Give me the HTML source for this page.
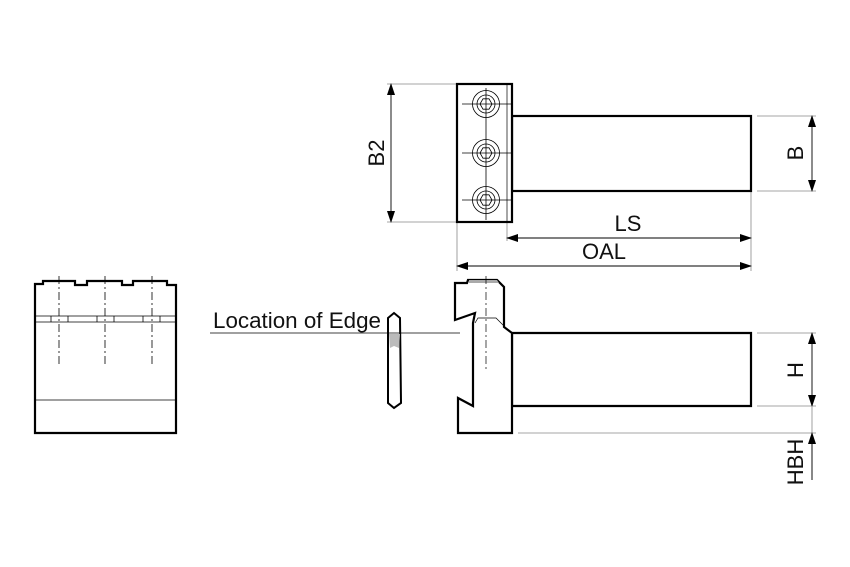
<!DOCTYPE html>
<html><head><meta charset="utf-8"><style>html,body{margin:0;padding:0;background:#fff}svg{display:block}</style></head>
<body>
<svg width="850" height="567" viewBox="0 0 850 567" xmlns="http://www.w3.org/2000/svg" font-family="Liberation Sans, sans-serif">
<defs>
<marker id="a" markerWidth="12" markerHeight="8" refX="11" refY="4" orient="auto-start-reverse" markerUnits="userSpaceOnUse"><path d="M0,0 L12,4 L0,8 z" fill="#000"/></marker>
</defs>
<g stroke="#888" stroke-width="0.8" fill="none">
<line x1="387" y1="84" x2="456" y2="84"/><line x1="387" y1="222" x2="456" y2="222"/>
<line x1="757" y1="116" x2="816" y2="116"/><line x1="757" y1="191" x2="816" y2="191"/>
<line x1="457" y1="222" x2="457" y2="271"/><line x1="751" y1="191" x2="751" y2="271"/><line x1="507" y1="222" x2="507" y2="241"/>
<line x1="757" y1="333" x2="816" y2="333"/><line x1="757" y1="406" x2="816" y2="406"/>
<line x1="518" y1="433" x2="816" y2="433"/>
</g>
<g stroke="#000" stroke-width="0.9" fill="none">
<line x1="391" y1="84" x2="391" y2="222" marker-start="url(#a)" marker-end="url(#a)"/>
<line x1="812" y1="116" x2="812" y2="191" marker-start="url(#a)" marker-end="url(#a)"/>
<line x1="507" y1="238" x2="751" y2="238" marker-start="url(#a)" marker-end="url(#a)"/>
<line x1="457" y1="266" x2="751" y2="266" marker-start="url(#a)" marker-end="url(#a)"/>
<line x1="812" y1="333" x2="812" y2="406" marker-start="url(#a)" marker-end="url(#a)"/>
<line x1="812" y1="406" x2="812" y2="480" stroke="#888" stroke-width="0.8"/>
<line x1="812" y1="480" x2="812" y2="433" marker-end="url(#a)"/>
</g>
<g stroke="#000" fill="#fff">
<rect x="512" y="116" width="239" height="75" stroke-width="2.2"/>
<rect x="457" y="84" width="55" height="138" stroke-width="2.2"/>
<line x1="507" y1="84" x2="507" y2="222" stroke-width="0.7"/>
</g>
<g stroke="#000" fill="none" stroke-width="0.8">
<line x1="486" y1="88" x2="486" y2="220"/>
<g id="s"><circle cx="486" cy="104" r="13.5"/><circle cx="486" cy="104" r="9"/><polygon points="492,104 489,109.2 483,109.2 480,104 483,98.8 489,98.8"/><line x1="462" y1="104" x2="511" y2="104"/></g>
<use href="#s" y="49"/><use href="#s" y="96"/>
</g>
<g stroke="#000" stroke-width="2.2" fill="#fff" stroke-linejoin="miter">
<path d="M512,333 L751,333 L751,406 L512,406 Z"/>
<path d="M455,283 L467,283 L468,280 L497,280 L504,287 L504,327 L512,333 L512,433 L458,433 L458,398 L473,406 L473,323 L475,313 L455,320 Z"/>
</g>
<polygon points="469,280 497,280 499,283 469,283" fill="#aaa"/>
<g stroke="#000" stroke-width="0.7" fill="none">
<polyline points="475,323 478,318 496,318 505,327"/>
<line x1="486" y1="276" x2="486" y2="370" stroke-dasharray="8,3,2,3"/>
</g>
<path d="M388,318 L394,313 L400,318 L401,403 L394,408 L388,403 Z" fill="#fff" stroke="#000" stroke-width="2"/>
<path d="M389,334 L400,334 L399,348 L394,346 L390,348 Z" fill="#bbb"/>
<line x1="210" y1="333" x2="460" y2="333" stroke="#000" stroke-width="0.8"/>
<path d="M35,433 L35,284 L43,284 L43,281 L75,281 L75,285 L87,285 L87,281 L122,281 L122,285 L133,285 L133,281 L167,281 L167,285 L176,285 L176,433 Z" fill="#fff" stroke="#000" stroke-width="2.2"/>
<g stroke="#000" stroke-width="0.8" fill="none">
<line x1="36" y1="316" x2="175" y2="316"/><line x1="36" y1="322" x2="175" y2="322"/>
<line x1="36" y1="400" x2="175" y2="400"/>
<line x1="51" y1="316" x2="51" y2="322"/><line x1="68" y1="316" x2="68" y2="322"/>
<line x1="97" y1="316" x2="97" y2="322"/><line x1="114" y1="316" x2="114" y2="322"/>
<line x1="143" y1="316" x2="143" y2="322"/><line x1="160" y1="316" x2="160" y2="322"/>
<g stroke-dasharray="8,3,2,3"><line x1="59" y1="276" x2="59" y2="366"/><line x1="105" y1="276" x2="105" y2="366"/><line x1="152" y1="276" x2="152" y2="366"/></g>
</g>
<g font-size="22" fill="#111">
<text x="213" y="328" textLength="168" lengthAdjust="spacingAndGlyphs">Location of Edge</text>
<text x="628" y="231" text-anchor="middle">LS</text>
<text x="604" y="259" text-anchor="middle">OAL</text>
<text transform="translate(384,153) rotate(-90)" text-anchor="middle">B2</text>
<text transform="translate(803,153) rotate(-90)" text-anchor="middle">B</text>
<text transform="translate(803,370) rotate(-90)" text-anchor="middle">H</text>
<text transform="translate(803,462) rotate(-90)" text-anchor="middle">HBH</text>
</g>
</svg>
</body></html>
